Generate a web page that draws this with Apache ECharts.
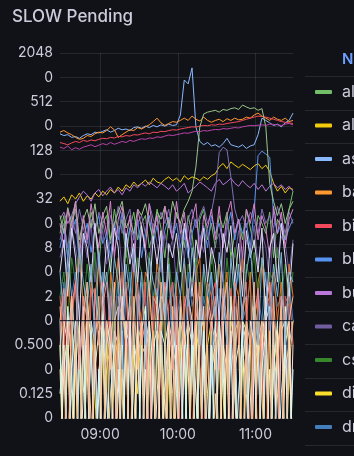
<!DOCTYPE html>
<html>
<head>
<meta charset="utf-8">
<script src="https://cdn.jsdelivr.net/npm/echarts@6.0.0/dist/echarts.min.js"></script>
<style>
  html, body { margin: 0; padding: 0; background: #111217; }
  #chart { width: 354px; height: 456px; }
</style>
</head>
<body>
<div id="chart"></div>
<script>
// sample times, minutes after 08:00 (08:29 .. 11:29, every 3 min)
const minutes = []
for (let i = 0; i <= 60; i++) minutes.push(29 + 3 * i)

const hourTicks = [60, 120, 180]
const yTicks = [0.0625, 0.125, 0.25, 0.5, 1, 2, 4, 8, 16, 32, 64, 128, 256, 512, 1024, 2048]

const alertmanager = [12,20,6,16,24,8,18,10,22,14, 5,16,20,9,24,12,18,6,14,22, 10,16,20,8,12,24,14,6,18,10, 22,16,8,20,12,4,18,24,10,16, 8,20,14,22,6,12,18,10,24,14, 8,20,16,12,22,6,18,14,10,24, 40]
const alloy = [30,34,28,36,32,38,30,35,32,38, 34,40,36,42,38,45,40,48,44,52, 46,50,55,48,58,52,50,56,60,54, 58,52,62,56,60,58,54,60,56,62, 66,80,88,76,92,84,78,86,80,74, 82,88,76,84,70,50,40,46,38,44, 42]
const assets = [205,195,200,185,190,180,195,205,200,215, 210,220,230,215,225,240,230,235,225,245, 250,240,255,245,260,250,265,255,270,260, 265,350,950,850,1340,250,165,150,160,145, 150,140,155,180,150,145,140,150,135,145, 150,200,320,300,280,260,270,250,280,300, 370]
const backend = [215,225,210,200,185,175,180,195,190,205, 215,210,225,250,230,185,200,215,230,225, 245,235,250,265,290,320,280,260,275,290, 285,300,320,300,340,310,295,330,300,285, 300,310,290,315,300,320,305,310,330,320, 350,370,340,320,300,330,310,300,320,290, 300]
const billing = [160,155,150,158,165,160,170,165,172,168, 175,180,178,185,182,190,188,195,192,200, 198,205,210,205,215,212,220,218,225,230, 228,235,240,245,250,248,255,260,258,265, 262,270,268,275,280,285,290,300,310,320, 330,340,335,330,320,310,300,290,285,280, 275]
const blobStore = [8,14,6,12,18,5,10,16,7,14, 20,9,12,6,16,10,22,8,14,11, 18,6,12,20,9,15,7,13,19,10, 16,8,14,6,12,18,10,15,8,20, 12,16,9,14,22,10,18,12,16,8, 24,110,125,115,105,20,12,16,10,14, 18]
const builder = [18,22,16,20,28,34,40,36,30,38, 42,35,40,45,38,42,36,44,40,48, 44,50,46,52,48,44,50,46,42,48, 40,44,50,38,42,46,52,48,44,40, 50,56,48,52,58,50,46,54,48,44, 50,42,48,40,46,50,44,48,42,46, 40]
const cache = [6,10,3,14,8,4,12,6,16,3, 9,13,5,11,7,15,4,10,6,12, 3,14,8,5,16,9,4,12,7,10, 3,13,6,15,8,4,11,7,14,5, 9,12,3,16,8,6,13,4,10,7, 15,5,12,8,3,14,6,11,9,4, 10]
const csi = [2,4,1,6,3,8,1.5,5,2,7, 1,4,3,6,0.5,5,2,8,3,1, 6,4,2,7,1.5,5,3,0.5,6,2, 4,8,1,5,3,6,2,4,1,7, 3,5,1.5,6,2,8,4,1,5,3, 7,2,6,1,4,3,8,2,5,1.5, 4]
const dispatcher = [0,0.5,0,1,0.25,0,0.75,0,1,0.125, 0,0.5,1,0,0.25,0.75,0,1,0,0.5, 0.125,1,0,0.75,0,0.5,1,0,0.25,0, 1,0.5,0,0.75,0,1,0.25,0,0.5,1, 0,0.75,0.125,0,1,0.5,0,0.25,1,0, 0.75,0,0.5,1,0,0.25,0.75,0,1,0.5, 0]
const dns = [1,3,0.5,2,4,0.25,1.5,3,0,2, 1,4,0.5,2.5,1,3,0.25,2,4,1, 0.5,3,1.5,0,2,4,1,2.5,0.5,3, 1,2,0.25,4,1.5,3,0.5,2,1,4, 0,2.5,1,3,0.5,2,4,1,1.5,3, 0.25,2,1,4,0.5,3,1.5,2,0,3, 1]
const edge = [2,0.5,4,1,3,6,1.5,0.5,3,2, 5,1,0,4,2,6,1,3,0.5,5, 2,1,4,3,0.5,6,2,1.5,4,1, 3,0,5,2,1,4,6,0.5,3,2, 1,5,1.5,4,0.5,3,2,6,1,4, 0,3,5,1.5,2,4,1,3,0.5,5, 2]
const etcd = [0.5,2,0,1,3,0.25,1.5,0,2.5,1, 0,3,0.5,2,0,1,4,0.25,1.5,0, 2,0.5,3,0,1,2.5,0.25,0,1.5,3, 0.5,0,2,1,0,4,0.5,1.5,0,2, 3,0.25,1,0,2.5,0.5,0,1.5,3,0, 1,2,0.25,0,3,1,0.5,0,2,1.5, 0]
const events = [140,135,145,130,138,132,140,145,150,142, 148,155,150,160,152,158,165,160,170,165, 172,178,175,182,180,188,185,192,198,195, 200,205,210,208,215,220,218,225,222,228, 232,230,238,235,240,245,242,250,255,260, 258,262,265,260,270,268,265,260,270,275, 265]
const feeds = [10,16,8,20,12,24,14,9,18,12, 22,16,10,20,14,26,12,18,24,10, 16,20,12,28,18,14,22,16,24,12, 20,16,10,18,24,14,20,26,16,22, 40,120,140,130,60,24,16,20,14,22, 18,12,24,16,20,14,26,18,12,22, 16]
const gateway = [20,12,25,16,30,10,18,24,14,28, 12,20,26,10,16,22,30,14,18,12, 24,20,28,16,10,22,18,26,14,30, 20,16,24,30,40,80,250,360,380,390, 400,380,410,400,420,430,410,465,440,420, 430,400,420,250,50,30,20,28,16,24, 30]
const ingest = [0.25,0,0.5,0.125,0,0.375,0,0.5,0.0625,0, 0.25,0.5,0,0.125,0.5,0,0.25,0,0.5,0.125, 0,0.375,0.5,0,0.25,0,0.5,0.125,0,0.5, 0.25,0,0.375,0,0.5,0.125,0,0.25,0.5,0, 0.125,0,0.5,0.25,0,0.375,0,0.5,0.125,0, 0.25,0.5,0,0.375,0,0.5,0.125,0,0.25,0.5, 0]
const jobs = [0,1,0.5,0,0.75,0,1,0.25,0,0.5, 0,1,0.125,0,0.75,0.5,0,1,0,0.25, 0.75,0,0.5,1,0,0.125,0.75,0,1,0.5, 0,0.25,1,0,0.5,0,0.75,1,0,0.25, 0.5,0,1,0,0.75,0.125,0,1,0.5,0, 0.25,0.75,0,1,0,0.5,0,0.75,1,0, 0.5]
const kafka = [1,0,0.5,2,0,0.25,1.5,0,1,0.5, 0,2,0.125,0,1,1.5,0,0.5,2,0, 0.75,0,1.5,0.25,0,1,2,0,0.5,0, 1.5,0.25,0,2,1,0,0.5,1.5,0,0.25, 1,0,2,0.5,0,1.5,0,1,0.25,0, 2,0.5,0,1,1.5,0,0.25,2,0,0.5, 1]
const kube = [0.5,0,1,0,0.25,1,0,0.5,0,0.75, 1,0,0.25,0.5,0,1,0.125,0,0.75,0, 0.5,1,0,0.25,0.75,0,1,0,0.5,0.125, 0,1,0.5,0,0.25,0.75,0,1,0,0.5, 0.25,1,0,0.5,0,0.75,1,0,0.25,0.5, 0,1,0.125,0,0.75,0,0.5,1,0,0.25, 1]
const ledger = [0.5,0,1.5,0.25,0,1,0,2,0.5,0, 0.125,1.5,0,1,0.25,0,2,0.5,0,1, 0,0.75,1.5,0,0.25,2,0,0.5,1,0, 0.125,1.5,0,1,0.5,0,2,0.25,0,1, 1.5,0,0.5,0,2,0.25,0,1,0.75,0, 1.5,0,0.5,2,0,0.25,1,0,1.5,0.5, 0]
const loader = [0,0.25,0.75,0,0.5,0,0.125,1,0,0.25, 0.75,0,0.5,1,0,0.25,0,0.75,0.5,0, 1,0,0.25,0,0.5,0.75,0,0.125,1,0, 0.5,0,0.75,0.25,0,1,0,0.5,0.125,0, 0.75,0.5,0,1,0,0.25,0.5,0,1,0.125, 0,0.5,1,0,0.25,0,0.75,0,0.5,1, 0]
const mailer = [1,2.5,0.5,1.5,3,0.25,2,1,0,2.5, 0.5,1.5,3,0.75,0,2,1,2.5,0.25,1.5, 3,0.5,1,0,2,1.5,0.5,3,1,0.25, 2,0,1.5,2.5,0.5,1,3,0,1.5,0.75, 2,0.25,2.5,1,0,3,0.5,1.5,2,0, 1,2.5,0.25,1.5,3,0.5,0,2,1,2.5, 0.5]
const metrics = [16,8,24,12,30,6,20,10,28,14, 8,22,12,30,6,18,26,10,20,4, 24,14,8,28,12,20,6,26,16,10, 30,12,22,8,18,28,6,20,14,24, 10,26,8,20,30,12,18,6,24,16, 28,10,20,14,6,26,12,22,8,18, 24]
const nats = [4,10,2,14,6,1,12,8,3,16, 6,2,10,4,14,8,1,12,5,9, 3,15,7,2,11,5,13,1,9,6, 12,4,16,8,2,10,6,14,3,8, 5,1,12,7,15,3,9,2,13,6, 10,4,14,1,8,12,3,16,6,2, 9]
const notifier = [0.125,0.5,0,0.25,1,0,0.5,0,0.75,0, 0.25,0,1,0.5,0,0.125,0.75,0,1,0, 0,0.5,0,1,0.25,0,0.75,0.5,0,1, 0.25,0,0.5,0,1,0.125,0,0.75,0,0.5, 0,1,0.25,0,0.5,0,0.125,0.75,0,1, 0.5,0,0.25,0.75,0,1,0,0.125,0.5,0, 0.25]
const pipeline = [4,1,6,2,0.5,8,3,1.5,5,0.5, 7,2,4,1,6,3,0.5,5,2,8, 1,4,0.5,6,3,2,7,1,5,0.5, 4,2,6,1.5,8,3,0.5,5,2,4, 1,7,3,0.5,6,2,5,1,4,8, 2,0.5,6,3,1,5,2,7,0.5,4, 3]
const proxy = [1.5,0.25,0,2,0.5,0,1,3,0,0.5, 2,0,1,0.25,3,0,1.5,0.5,0,2, 0.25,1,0,2.5,0.5,0,3,1,0,1.5, 0,2,0.5,1,0,3,0.25,0,2,1, 0.5,0,1.5,3,0,0.25,2,0,1,0.5, 3,0,1,0.5,0,2,0.25,1.5,0,1, 2]
const queue = [1,1,1,1,1,1,1,1,1,1, 1,1,1,1,1,1,1,1,1,1, 1,1,1,1,1,1,1,1,1,1, 1,1,1,1,1,1,1,1,1,1, 1,1,1,1,1,1,1,1,1,1, 1,1,1,1,1,1,1,1,1,1, 1]

const seriesList = [
  ['alertmanager', '#73BF69', alertmanager],
  ['alloy', '#F2CC0C', alloy],
  ['assets', '#8AB8FF', assets],
  ['backend', '#FF9830', backend],
  ['billing', '#F2495C', billing],
  ['blob-store', '#5794F2', blobStore],
  ['builder', '#B877D9', builder],
  ['cache', '#705DA0', cache],
  ['csi', '#37872D', csi],
  ['dispatcher', '#FADE2A', dispatcher],
  ['dns', '#447EBC', dns],
  ['edge', '#E0752D', edge],
  ['etcd', '#EA6460', etcd],
  ['feeds', '#806EB7', feeds],
  ['gateway', '#9AC48A', gateway],
  ['ingest', '#F4D598', ingest],
  ['jobs', '#FCE2DE', jobs],
  ['kafka', '#BADFF4', kafka],
  ['kube', '#F2C96D', kube],
  ['ledger', '#E0F9D7', ledger],
  ['loader', '#FCEACA', loader],
  ['mailer', '#F29191', mailer],
  ['metrics', '#D683CE', metrics],
  ['nats', '#DEDAF7', nats],
  ['notifier', '#CFFAFF', notifier],
  ['pipeline', '#82B5D8', pipeline],
  ['proxy', '#F9BA8F', proxy],
  ['events', '#BA43A9', events],
  ['queue', '#0b1226', queue]
]

const font = 'Inter, "Noto Sans", sans-serif'
const textColor = '#ccccdc'
const gridColor = 'rgba(204,204,220,0.12)'

// zero can't sit on a log axis: push it below the bottom, the grid clips it
const lift = v => (v > 0 ? v : 0.01)

const clock = m => {
  const h = 8 + Math.floor(m / 60)
  const mm = m % 60
  return String(h).padStart(2, '0') + ':' + String(mm).padStart(2, '0')
}

const yLabel = v => {
  const e = Math.round(Math.log2(v))
  if (e % 2 === 0) return '0'
  const p = Math.pow(2, e)
  return p < 1 ? p.toFixed(3) : String(p)
}

const separators = []
for (let k = 0; k < 12; k++) {
  const y = Math.round(76 + 33.5 * k) + 0.5
  separators.push({
    type: 'line',
    shape: { x1: 305, y1: y, x2: 354, y2: y },
    style: { stroke: gridColor, lineWidth: 1 },
    silent: true
  })
}

const chart = echarts.init(document.getElementById('chart'))
chart.setOption({
  backgroundColor: '#111217',
  animation: false,
  title: {
    text: 'SLOW Pending',
    left: 7,
    top: 3,
    textStyle: { color: textColor, fontSize: 17, fontWeight: 500, fontFamily: font }
  },
  grid: { left: 60, right: 61, top: 53, bottom: 38 },
  legend: {
    data: seriesList.map(s => s[0]),
    orient: 'vertical',
    left: 315,
    top: 84,
    height: 2000,
    padding: 0,
    itemWidth: 17,
    itemHeight: 4,
    itemGap: 17.5,
    icon: 'roundRect',
    selectedMode: false,
    textStyle: { color: textColor, fontSize: 16, lineHeight: 16, fontFamily: font, padding: [0, 0, 0, 5] }
  },
  graphic: separators.concat([{
    type: 'text',
    left: 342,
    top: 52,
    style: { text: 'Name', fill: '#6E9FFF', font: '600 15px ' + font },
    silent: true
  }]),
  xAxis: {
    type: 'value',
    min: 29,
    max: 209,
    axisLine: { show: false },
    axisTick: { show: false, customValues: hourTicks },
    axisLabel: {
      customValues: hourTicks,
      formatter: clock,
      color: textColor,
      fontSize: 14,
      fontFamily: font,
      margin: 10
    },
    splitLine: { show: true, lineStyle: { color: gridColor, width: 1 } }
  },
  yAxis: {
    type: 'log',
    logBase: 2,
    min: 0.0625,
    max: 2048,
    axisLine: { show: false },
    axisTick: { show: false, customValues: yTicks },
    axisLabel: {
      customValues: yTicks,
      formatter: yLabel,
      color: textColor,
      fontSize: 14,
      fontFamily: font,
      margin: 7
    },
    splitLine: { show: true, lineStyle: { color: gridColor, width: 1 } }
  },
  series: seriesList.map(([name, color, values]) => ({
    name,
    type: 'line',
    color,
    showSymbol: false,
    symbol: 'none',
    clip: true,
    lineStyle: { width: 1, color },
    data: values.map((v, i) => [minutes[i], lift(v)])
  }))
})
</script>
</body>
</html>
